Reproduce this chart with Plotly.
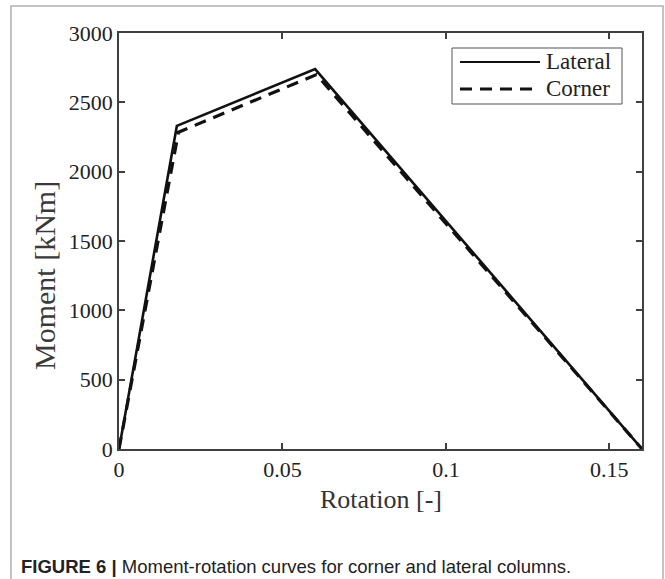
import plotly.graph_objects as go

# ---- data ----
rot_lateral = [0.0, 0.0177, 0.0600, 0.1600]
mom_lateral = [0, 2330, 2740, 0]
rot_corner = [0.0, 0.0182, 0.0604, 0.1600]
mom_corner = [0, 2285, 2700, 0]
series_names = ["Lateral", "Corner"]
x_ticks = [0, 0.05, 0.1, 0.15]
x_ticklabels = ["0", "0.05", "0.1", "0.15"]
y_ticks = [0, 500, 1000, 1500, 2000, 2500, 3000]

W, H = 665, 579
L, R, T, B = 119, 23, 33, 130
pw, ph = W - L - R, H - T - B

def px(xp):
    return (xp - L) / pw

def py(yp):
    return (T + ph - yp) / ph

SERIF = "Liberation Serif, Times New Roman, serif"
AX = "#404040"

fig = go.Figure()
fig.add_trace(go.Scatter(x=rot_lateral, y=mom_lateral, mode="lines", name=series_names[0],
                         line=dict(color="#111111", width=2.6), showlegend=False))
fig.add_trace(go.Scatter(x=rot_corner, y=mom_corner, mode="lines", name=series_names[1],
                         line=dict(color="#111111", width=3.2, dash="12px,8px"), showlegend=False))

axis_common = dict(showgrid=False, zeroline=False, showline=True, linecolor=AX, linewidth=1.5,
                   mirror="ticks", ticks="inside", ticklen=6, tickwidth=1.5, tickcolor=AX,
                   tickfont=dict(family=SERIF, size=22, color="#222222"))
fig.update_xaxes(range=[0, 0.16], tickvals=x_ticks, ticktext=x_ticklabels, **axis_common)
fig.update_yaxes(range=[0, 3000], tickvals=y_ticks, **axis_common)

shapes = []
# outer figure frame
shapes.append(dict(type="rect", xref="paper", yref="paper",
                   x0=px(11), x1=px(663), y0=py(600), y1=py(6),
                   line=dict(color="#b0b0b0", width=1.5), fillcolor="rgba(0,0,0,0)", layer="below"))
# custom legend box
lx0, lx1, ly0, ly1 = 452, 622, 48, 104
shapes.append(dict(type="rect", xref="paper", yref="paper",
                   x0=px(lx0), x1=px(lx1), y0=py(ly1), y1=py(ly0),
                   line=dict(color="#555555", width=1), fillcolor="white"))
shapes.append(dict(type="line", xref="paper", yref="paper",
                   x0=px(460), x1=px(540), y0=py(62), y1=py(62),
                   line=dict(color="#111111", width=2.2)))
shapes.append(dict(type="line", xref="paper", yref="paper",
                   x0=px(460), x1=px(540), y0=py(89), y1=py(89),
                   line=dict(color="#111111", width=3.2, dash="12px,8px")))

annotations = [
    dict(text=series_names[0], xref="paper", yref="paper", x=px(544), y=py(62),
         xanchor="left", yanchor="middle", showarrow=False,
         font=dict(family=SERIF, size=23, color="#222222")),
    dict(text=series_names[1], xref="paper", yref="paper", x=px(544), y=py(89),
         xanchor="left", yanchor="middle", showarrow=False,
         font=dict(family=SERIF, size=23, color="#222222")),
    dict(text="Rotation [-]", xref="paper", yref="paper", x=0.5, y=py(500),
         xanchor="center", yanchor="middle", showarrow=False,
         font=dict(family=SERIF, size=26, color="#333333")),
    dict(text="Moment [kNm]", xref="paper", yref="paper", x=px(44), y=py(276),
         xanchor="center", yanchor="middle", showarrow=False, textangle=-90,
         font=dict(family=SERIF, size=30, color="#3a3a3a")),
    dict(text="<b>FIGURE 6 |</b> Moment-rotation curves for corner and lateral columns.",
         xref="paper", yref="paper", x=px(19), y=py(566),
         xanchor="left", yanchor="middle", showarrow=False,
         font=dict(family="Liberation Sans, Arial, sans-serif", size=18.5, color="#222222")),
]

fig.update_layout(width=W, height=H, margin=dict(l=L, r=R, t=T, b=B),
                  paper_bgcolor="white", plot_bgcolor="white",
                  shapes=shapes, annotations=annotations, showlegend=False)

fig.write_html("out.html")
